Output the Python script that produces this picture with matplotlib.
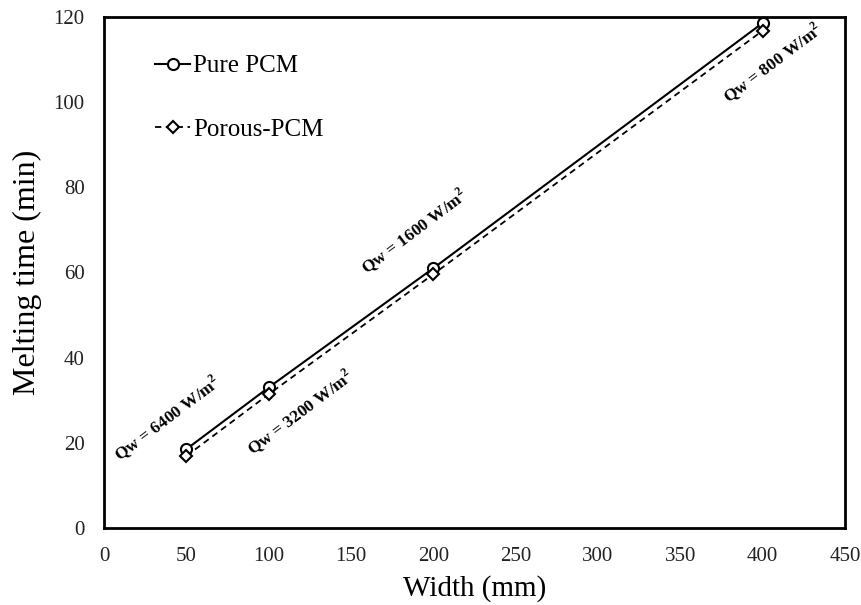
import numpy as np
import matplotlib
matplotlib.use("Agg")
import matplotlib.pyplot as plt

# melting time vs. enclosure width, for the two PCM cases
width_mm = [50, 100, 200, 400]
pure_pcm = [18.5, 33.0, 61.0, 118.6]
porous_pcm = [16.9, 31.4, 59.6, 116.8]

# heat flux applied at each width
flux_labels = ['Qw = 6400 W/m$^\\mathbf{2}$', 'Qw = 3200 W/m$^\\mathbf{2}$',
               'Qw = 1600 W/m$^\\mathbf{2}$', 'Qw = 800 W/m$^\\mathbf{2}$']
flux_xy = [(38.5, 25.6), (119.5, 27.0), (188.5, 69.7), (406.0, 109.2)]

x_ticks = np.arange(0, 451, 50)
y_ticks = np.arange(0, 121, 20)

plt.rcParams['font.family'] = ['Liberation Serif', 'DejaVu Serif']
plt.rcParams['mathtext.fontset'] = 'custom'
plt.rcParams['mathtext.rm'] = 'Liberation Serif'
plt.rcParams['mathtext.bf'] = 'Liberation Serif:bold'

fig = plt.figure(figsize=(8.61, 6.05), dpi=100)
ax = fig.add_axes([0.1208, 0.1273, 0.8606, 0.8446])

ax.plot(width_mm, pure_pcm, color='black', lw=1.5, marker='o', ms=8,
        mfc='white', mec='black', mew=1.5, label='Pure PCM')
ax.plot(width_mm, porous_pcm, color='black', lw=1.3, ls=(0, (3.5, 2.5)), marker='D', ms=6.5,
        mfc='white', mec='black', mew=1.5, label='Porous-PCM')

for txt, (x, y) in zip(flux_labels, flux_xy):
    ax.text(x, y, txt, rotation=37, ha='center', va='center',
            fontsize=12.5, fontweight='bold', rotation_mode='anchor')

ax.set_xlim(0, 450)
ax.set_ylim(0, 120)
ax.set_xticks(x_ticks)
ax.set_yticks(y_ticks)
ax.tick_params(length=0, labelsize=15, pad=14, colors='#222222')
for s in ax.spines.values():
    s.set_linewidth(2)
    s.set_color('black')

ax.set_xlabel('Width (mm)', fontsize=21, labelpad=6)
ax.set_ylabel('Melting time (min)', fontsize=23, labelpad=8)

ax.legend(loc='upper left', bbox_to_anchor=(0.039, 0.97), frameon=False,
          fontsize=18, handlelength=1.4, handletextpad=0.1, labelspacing=1.65)

fig.savefig('out.png', dpi=100)
